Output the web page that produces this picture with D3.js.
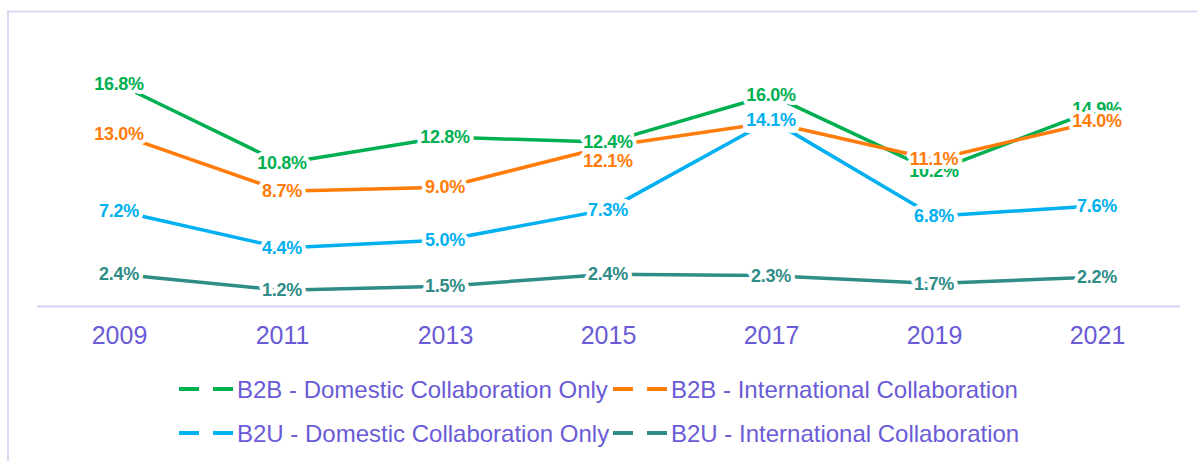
<!DOCTYPE html>
<html>
<head>
<meta charset="utf-8">
<script src="https://cdn.jsdelivr.net/npm/d3@7"></script>
<style>
  body { margin: 0; background: #fff; }
  svg { display: block; font-family: Arial, "Liberation Sans", sans-serif; }
</style>
</head>
<body>
<svg id="chart" width="1197" height="461"></svg>
<script>
// data
const years = ["2009", "2011", "2013", "2015", "2017", "2019", "2021"];
const seriesNames = [
  "B2B - Domestic Collaboration Only",
  "B2B - International Collaboration",
  "B2U - Domestic Collaboration Only",
  "B2U - International Collaboration"
];
const b2bDomestic = [16.8, 10.8, 12.8, 12.4, 16.0, 10.2, 14.9];
const b2bIntl = [13.0, 8.7, 9.0, 12.1, 13.9, 11.1, 14.0];
const b2uDomestic = [7.2, 4.4, 5.0, 7.3, 14.1, 6.8, 7.6];
const b2uIntl = [2.4, 1.2, 1.5, 2.4, 2.3, 1.7, 2.2];
const colors = ["#00b050", "#ff7c0a", "#00b0f0", "#2f8c86"];

const allSeries = [b2bDomestic, b2bIntl, b2uDomestic, b2uIntl];

const svg = d3.select("#chart");
const W = 1197, H = 461;
const lavender = "#dcd8f4";
const textColor = "#6a5bd6";

// outer frame (top + left edges visible)
svg.append("path")
  .attr("d", `M8,${H} L8,11.5 L${W},11.5`)
  .attr("fill", "none")
  .attr("stroke", lavender)
  .attr("stroke-width", 2);

let x = d3.scalePoint().domain(years).range([119, 1097]);
let y = d3.scaleLinear().domain([0, 18]).range([306, 68.4]);

// x axis
const xAxis = svg.append("g")
  .attr("transform", `translate(0,${306.5})`)
  .call(d3.axisBottom(x).tickSize(0).tickPadding(20));
xAxis.select(".domain").remove();
xAxis.append("line")
  .attr("x1", 37).attr("x2", 1180)
  .attr("stroke", lavender).attr("stroke-width", 2.5);
xAxis.selectAll(".tick text")
  .attr("fill", textColor)
  .style("font-size", "25px")
  .style("font-family", "Arial, 'Liberation Sans', sans-serif");

// lines
let line = d3.line().x((d, i) => x(years[i])).y(d => y(d));

svg.append("g").selectAll("path")
  .data(allSeries)
  .join("path")
  .attr("d", d => line(d))
  .attr("fill", "none")
  .attr("stroke", (d, i) => colors[i])
  .attr("stroke-width", 3.5)
  .attr("stroke-linejoin", "round");

// labels, with a small nudge when a lower value sits on an earlier label
let labels = [];
allSeries.forEach((s, si) => {
  s.forEach((v, i) => {
    let ly = y(v);
    labels.filter(l => l.i === i).forEach(l => {
      if (Math.abs(l.y - ly) < 6 && v < l.v) ly = l.y + 19;
    });
    labels.push({ si: si, i: i, v: v, x: x(years[i]), y: ly });
  });
});

svg.append("g").selectAll("text")
  .data(labels)
  .join("text")
  .attr("x", d => d.x)
  .attr("y", d => d.y)
  .attr("text-anchor", "middle")
  .attr("dominant-baseline", "central")
  .attr("fill", d => colors[d.si])
  .attr("stroke", "#fff")
  .attr("stroke-width", 8)
  .attr("stroke-linejoin", "round")
  .attr("paint-order", "stroke")
  .style("font-weight", "bold")
  .style("font-size", "18px")
  .style("letter-spacing", "-0.3px")
  .text(d => d.v.toFixed(1) + "%");

// legend
const colX = [179, 613];
const rowY = [389, 433];
const legend = svg.append("g").selectAll("g")
  .data(seriesNames)
  .join("g")
  .attr("transform", (d, i) => `translate(${colX[i % 2]},${rowY[Math.floor(i / 2)]})`);

legend.append("line")
  .attr("x1", 0).attr("x2", 54)
  .attr("stroke", (d, i) => colors[i])
  .attr("stroke-width", 4)
  .attr("stroke-dasharray", "20,14");

legend.append("text")
  .attr("x", 58)
  .attr("dominant-baseline", "central")
  .attr("fill", textColor)
  .style("font-size", "24px")
  .text(d => d);
</script>
</body>
</html>
